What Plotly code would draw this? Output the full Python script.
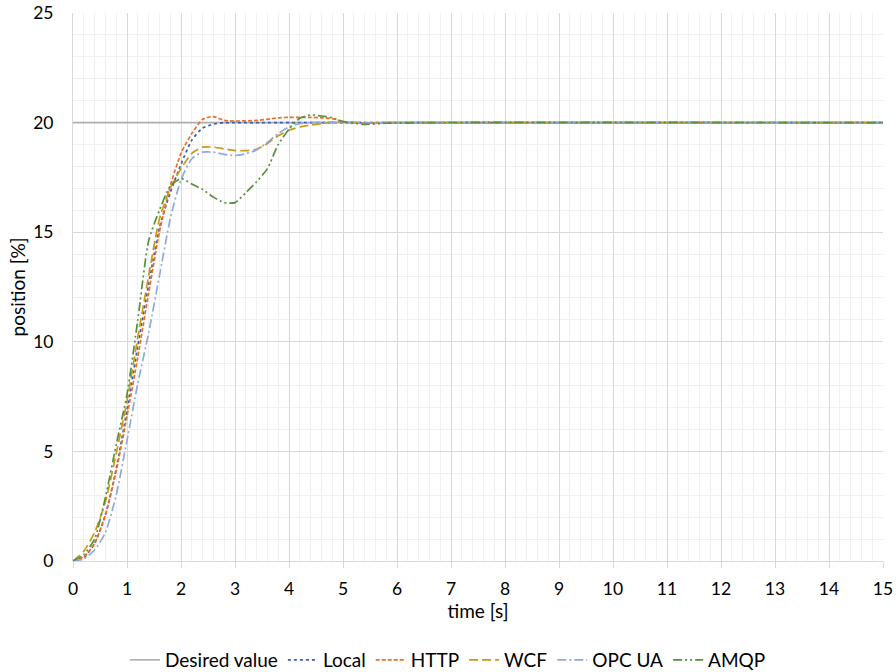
import plotly.graph_objects as go

# time grid [s]
time = [0.0, 0.2, 0.4, 0.6, 0.8, 1.0, 1.2, 1.4, 1.6, 1.8, 2.0, 2.2, 2.4, 2.6, 2.8,
        3.0, 3.2, 3.4, 3.6, 3.8, 4.0, 4.2, 4.4, 4.6, 4.8, 5.0, 5.4, 5.8, 6.5, 15.0]

desired_time = [0.0, 15.0]
desired = [20.0, 20.0]

local = [0.0, 0.15, 0.8, 2.1, 4.2, 6.9, 9.8, 12.6, 15.2, 16.8, 18.1, 19.2, 19.75, 19.93, 20.0,
         20.0, 20.0, 20.0, 20.0, 20.0, 20.0, 20.0, 20.0, 20.0, 20.0, 20.0, 20.0, 20.0, 20.0, 20.0]

http = [0.0, 0.2, 0.8, 2.1, 4.1, 6.6, 9.3, 12.2, 15.0, 17.1, 18.6, 19.5, 20.15, 20.27, 20.1,
        20.07, 20.08, 20.1, 20.15, 20.22, 20.24, 20.24, 20.24, 20.22, 20.18, 20.05, 19.98, 20.0, 20.0, 20.0]

wcf = [0.0, 0.45, 1.3, 2.7, 4.9, 7.3, 10.2, 13.0, 15.6, 17.0, 17.9, 18.6, 18.88, 18.88, 18.8,
       18.72, 18.72, 18.78, 19.05, 19.4, 19.65, 19.8, 19.89, 19.95, 20.02, 20.05, 19.97, 20.0, 20.0, 20.0]

opc_ua = [0.0, 0.1, 0.5, 1.3, 3.0, 5.5, 8.1, 10.4, 13.0, 15.6, 17.4, 18.35, 18.65, 18.65, 18.55,
          18.5, 18.58, 18.75, 19.1, 19.5, 19.8, 19.95, 20.0, 20.02, 20.0, 20.0, 19.98, 20.0, 20.0, 20.0]

amqp = [0.0, 0.3, 1.0, 2.9, 5.3, 7.6, 11.0, 14.6, 16.0, 17.1, 17.45, 17.2, 16.95, 16.6, 16.35,
        16.35, 16.8, 17.3, 17.9, 19.0, 19.7, 20.2, 20.35, 20.3, 20.22, 20.05, 19.92, 19.97, 20.0, 20.0]

x_ticks = list(range(0, 16))
y_ticks = [0, 5, 10, 15, 20, 25]

FONT = "Lato, 'Open Sans', sans-serif"

fig = go.Figure()
fig.add_trace(go.Scatter(x=desired_time, y=desired, name="Desired value", mode="lines",
                         line=dict(color="#adadad", width=1.6)))
series = [
    ("Local", local, "#3a5cb4", "dot"),
    ("HTTP", http, "#e8712a", "4px,2px"),
    ("WCF", wcf, "#c99a14", "9px,4px"),
    ("OPC UA", opc_ua, "#8fa9dc", "9px,3px,2px,3px"),
    ("AMQP", amqp, "#5a8f3a", "9px,3px,2px,3px,2px,3px"),
]
for name, vals, col, dash in series:
    fig.add_trace(go.Scatter(x=time, y=vals, name=name, mode="lines",
                             line=dict(color=col, width=1.7, dash=dash, shape="spline", smoothing=0.6)))

fig.update_layout(
    width=896, height=672,
    margin=dict(l=73, r=13, t=13, b=111, autoexpand=False),
    paper_bgcolor="white", plot_bgcolor="white",
    font=dict(family=FONT, size=17.5, color="#000000"),
    showlegend=True,
    legend=dict(orientation="h", xref="container", yref="container",
                x=0.5, xanchor="center", y=(672 - 660) / 672, yanchor="middle",
                font=dict(size=19), tracegroupgap=0),
)
fig.update_xaxes(range=[0, 15], tickvals=x_ticks, ticktext=[str(v) for v in x_ticks],
                 automargin=False,
                 showgrid=True, gridcolor="#d9d9d9", gridwidth=1,
                 minor=dict(dtick=0.2, showgrid=True, gridcolor="#f0f0f0", gridwidth=1),
                 showline=True, linecolor="#d9d9d9", linewidth=1,
                 ticks="outside", ticklen=6, tickcolor="#d9d9d9",
                 zeroline=False, ticklabelstandoff=6,
                 title=dict(text="time [s]", font=dict(size=19), standoff=0))
fig.update_yaxes(range=[0, 25], tickvals=y_ticks, ticktext=[str(v) for v in y_ticks],
                 automargin=False,
                 showgrid=True, gridcolor="#d9d9d9", gridwidth=1,
                 minor=dict(dtick=1, showgrid=True, gridcolor="#f0f0f0", gridwidth=1),
                 showline=True, linecolor="#d9d9d9", linewidth=1,
                 zeroline=False, ticks="", ticklabelstandoff=15,
                 title=dict(text="position [%]", font=dict(size=19), standoff=2))

fig.write_html("out.html", config={"displayModeBar": False},
               post_script="document.body.style.margin='0';")
